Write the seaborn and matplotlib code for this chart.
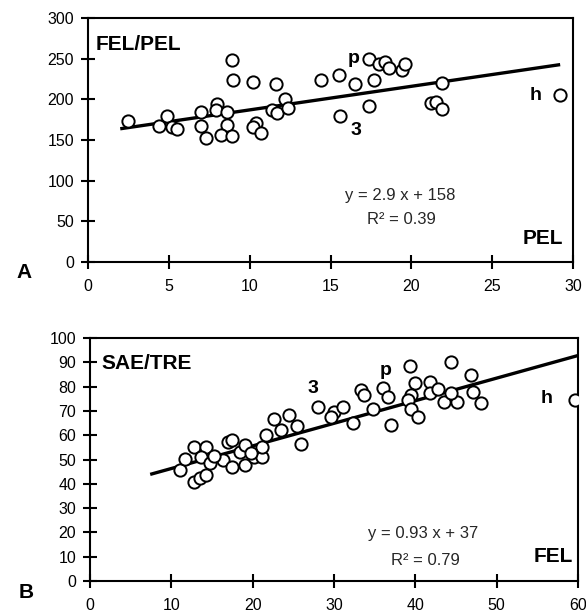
import matplotlib
matplotlib.use("Agg")
import matplotlib.pyplot as plt
import numpy as np
import pandas as pd
import seaborn as sns

# Panel A: FEL/PEL vs PEL
pel_x = [2.5, 4.4, 4.9, 5.2, 5.5, 7.0, 7.0, 7.3, 8.0, 7.9, 8.6, 8.6, 8.2, 8.9,
         8.9, 9.0, 10.2, 10.4, 10.2, 10.7, 11.6, 11.4, 11.7, 12.2, 12.4, 14.4,
         15.5, 15.6, 16.5, 17.4, 17.7, 17.4, 18.0, 18.4, 18.6, 19.4, 19.6, 21.9,
         21.2, 21.5, 21.9, 29.2]
fel_pel_y = [173, 167, 179, 166, 164, 185, 167, 153, 194, 187, 185, 168, 156, 155,
             248, 224, 221, 171, 166, 158, 219, 187, 183, 200, 189, 224,
             230, 180, 219, 250, 224, 192, 243, 246, 238, 236, 243, 220,
             196, 197, 188, 205]
fit_a = (2.9, 158)          # slope, intercept
fit_a_range = (2.0, 29.2)

# Panel B: SAE/TRE vs FEL
fel_x = [11.1, 11.7, 12.8, 14.3, 13.6, 12.75, 13.5, 14.2, 14.8, 16.3, 17.5, 17.0,
         17.4, 19.1, 18.5, 19.1, 20.2, 21.2, 21.2, 21.6, 22.6, 23.5, 24.5, 25.5,
         26.0, 28.0, 30.0, 29.6, 31.1, 32.3, 33.3, 33.7, 34.8, 36.0, 36.6, 37.0,
         39.3, 39.9, 39.5, 39.1, 39.5, 40.3, 41.8, 41.8, 42.8, 43.5, 44.4, 45.1,
         44.4, 46.9, 47.1, 48.1, 19.8, 15.3, 59.6]
sae_tre_y = [45.7, 50.1, 55.3, 55.3, 51.0, 40.9, 42.3, 43.6, 48.4, 49.8, 47.0, 57.3,
             58.0, 47.7, 53.2, 56.0, 51.1, 51.1, 55.3, 60.0, 66.5, 62.1, 68.3, 63.8,
             56.4, 71.5, 69.7, 67.6, 71.7, 64.9, 78.6, 76.5, 70.7, 79.3, 75.8, 64.2,
             88.6, 81.6, 76.5, 74.5, 70.7, 67.6, 82.0, 77.2, 78.9, 73.8, 90.0, 73.8,
             77.2, 84.8, 77.9, 73.1, 52.5, 51.5, 74.5]
fit_b = (0.93, 37)
fit_b_range = (7.4, 60.0)

sns.set_style("white")
plt.rcParams['font.family'] = ['Liberation Sans', 'DejaVu Sans']

fig = plt.figure(figsize=(5.86, 6.14), dpi=100)
ax_a = fig.add_axes([0.150, 0.5733, 0.828, 0.3974])
ax_b = fig.add_axes([0.1536, 0.0537, 0.8328, 0.3958])


def draw_panel(ax, xs, ys, fit, xr, xlim, ylim, xticks, yticks):
    df = pd.DataFrame({"x": xs, "y": ys})
    sns.scatterplot(data=df, x="x", y="y", ax=ax, s=78, marker="o",
                    facecolor="white", edgecolor="black", linewidth=1.4,
                    zorder=3)
    lx = np.array(xr)
    ax.plot(lx, fit[0] * lx + fit[1], color="black", lw=2.4, zorder=2,
            solid_capstyle="butt")
    ax.set_xlim(*xlim)
    ax.set_ylim(*ylim)
    ax.set_xticks(xticks)
    ax.set_yticks(yticks)
    ax.set_xlabel("")
    ax.set_ylabel("")
    for sp in ax.spines.values():
        sp.set_visible(True)
        sp.set_color("black")
        sp.set_linewidth(1.5)
    ax.tick_params(axis="both", direction="inout", length=10, width=1.5,
                   colors="black", labelsize=11.5, bottom=True, left=True,
                   top=False, right=False)
    ax.tick_params(axis="x", pad=7)
    ax.tick_params(axis="y", pad=5)


draw_panel(ax_a, pel_x, fel_pel_y, fit_a, fit_a_range, (0, 30), (0, 300),
           range(0, 31, 5), range(0, 301, 50))
draw_panel(ax_b, fel_x, sae_tre_y, fit_b, fit_b_range, (0, 60), (0, 100),
           range(0, 61, 10), range(0, 101, 10))

bold = dict(fontweight="bold", color="black")

# Panel A annotations
ax_a.text(0.5, 268, "FEL/PEL", fontsize=15, ha="left", va="center", **bold)
ax_a.text(16.4, 250, "p", fontsize=14, ha="center", va="center", **bold)
ax_a.text(16.6, 162, "3", fontsize=14, ha="center", va="center", **bold)
ax_a.text(27.7, 205, "h", fontsize=14, ha="center", va="center", **bold)
ax_a.text(19.3, 82, "y = 2.9 x + 158", fontsize=12, ha="center", va="center")
ax_a.text(19.4, 52, "R² = 0.39", fontsize=12, ha="center", va="center")
ax_a.text(29.4, 29, "PEL", fontsize=15, ha="right", va="center", **bold)
fig.text(24 / 586, 1 - 273 / 614, "A", fontsize=15, ha="center", va="center", **bold)

# Panel B annotations
ax_b.text(1.4, 89.7, "SAE/TRE", fontsize=15, ha="left", va="center", **bold)
ax_b.text(36.4, 86.5, "p", fontsize=14, ha="center", va="center", **bold)
ax_b.text(27.4, 79.3, "3", fontsize=14, ha="center", va="center", **bold)
ax_b.text(56.2, 75.3, "h", fontsize=14, ha="center", va="center", **bold)
ax_b.text(41.0, 19.7, "y = 0.93 x + 37", fontsize=12, ha="center", va="center")
ax_b.text(41.2, 8.6, "R² = 0.79", fontsize=12, ha="center", va="center")
ax_b.text(59.4, 10, "FEL", fontsize=15, ha="right", va="center", **bold)
fig.text(26 / 586, 1 - 592 / 614, "B", fontsize=15, ha="center", va="center", **bold)

fig.savefig("out.png", dpi=100)
